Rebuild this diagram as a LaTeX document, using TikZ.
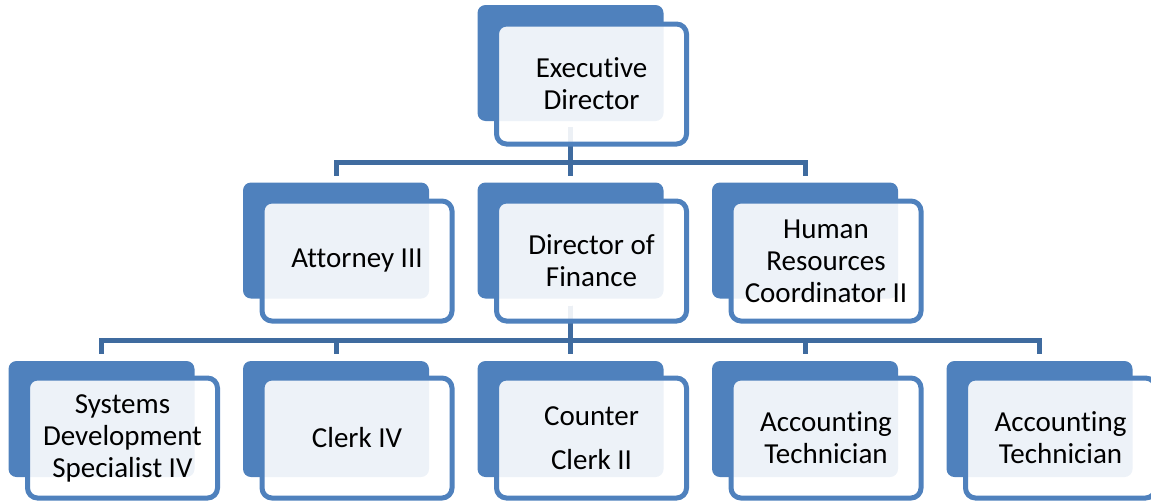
\documentclass[tikz,border=0pt]{standalone}
\usepackage{fontspec}
\setmainfont{Carlito}[Ligatures=NoCommon,RawFeature={-liga;-clig}]
\definecolor{boxblue}{HTML}{4F81BD}
\definecolor{connblue}{HTML}{3F6B9F}
\tikzset{
  backbox/.style={fill=boxblue, draw=none, rounded corners=8pt, minimum width=186pt, minimum height=116pt, inner sep=0pt},
  frontbox/.style={fill=white, fill opacity=0.9, text opacity=1, draw=boxblue, draw opacity=1, line width=5pt, rounded corners=10pt, minimum width=190pt, minimum height=120pt, inner sep=0pt, align=center, font=\fontsize{29}{32}\selectfont},
  conn/.style={draw=connblue, line width=5pt, line join=miter}
}
\begin{document}
\begin{tikzpicture}[x=1pt,y=-1pt]
\useasboundingbox (0,0) rectangle (1151,501);
% back boxes
\node[backbox] (ed) at (570.5,63) {};
\node[backbox] (at) at (336,240.5) {};
\node[backbox] (df) at (570.5,240.5) {};
\node[backbox] (hr) at (805,240.5) {};
\node[backbox] (sd) at (101.5,419) {};
\node[backbox] (c4) at (336,419) {};
\node[backbox] (cc) at (570.5,419) {};
\node[backbox] (a1) at (805,419) {};
\node[backbox] (a2) at (1039.5,419) {};
% connectors
\foreach \c in {at,df,hr}
  \draw[conn] ([yshift=-6pt]ed.south) -- ++(0,35) -| ([yshift=6pt]\c.north);
\foreach \c in {sd,c4,cc,a1,a2}
  \draw[conn] ([yshift=-7pt]df.south) -- ++(0,35) -| ([yshift=7pt]\c.north);
% front boxes
\node[frontbox] (edf) at ([shift={(21pt,-21pt)}]ed.center) {Executive\\Director};
\node[frontbox] (atf) at ([shift={(21pt,-20.5pt)}]at.center) {Attorney III};
\node[frontbox] (dff) at ([shift={(21pt,-20.5pt)}]df.center) {Director of\\Finance};
\node[frontbox] (hrf) at ([shift={(21pt,-20.5pt)}]hr.center) {Human\\Resources\\Coordinator II};
\node[frontbox] (sdf) at ([shift={(21pt,-19pt)}]sd.center) {Systems\\Development\\Specialist IV};
\node[frontbox] (c4f) at ([shift={(21pt,-19pt)}]c4.center) {Clerk IV};
\node[frontbox] (ccf) at ([shift={(21pt,-19pt)}]cc.center) {Counter\\[12pt]Clerk II};
\node[frontbox] (a1f) at ([shift={(21pt,-19pt)}]a1.center) {Accounting\\Technician};
\node[frontbox] (a2f) at ([shift={(21pt,-19pt)}]a2.center) {Accounting\\Technician};
\end{tikzpicture}
\end{document}
